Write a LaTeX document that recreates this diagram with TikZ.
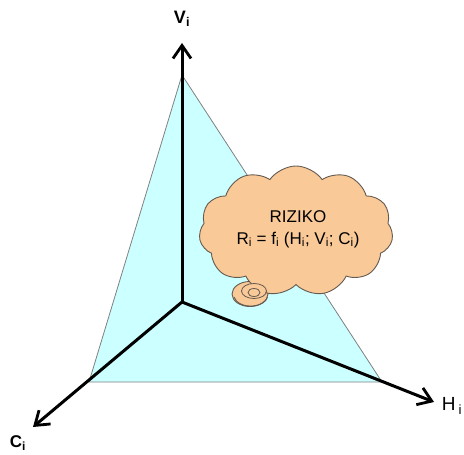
\documentclass[tikz,border=0pt]{standalone}
\usepackage{fontspec}
\setmainfont{Liberation Sans}
\usetikzlibrary{arrows.meta,shapes.symbols,shapes.geometric}
\definecolor{tri}{RGB}{204,255,255}
\definecolor{peach}{RGB}{250,201,152}
\definecolor{cloudline}{RGB}{100,90,80}
\begin{document}
\begin{tikzpicture}[x=1pt,y=-1pt,
  axis/.style={line width=3pt,-{Straight Barb[length=13pt,width=18pt,line width=2.8pt]}},
  lbl/.style={inner sep=0pt,font=\fontsize{17}{20}\selectfont},
  thought/.style={cloud,cloud puffs=11,cloud puff arc=110,aspect=1.5,fill=peach,draw=cloudline,line width=0.9pt,minimum width=194pt,minimum height=130pt,inner sep=0pt},
  bubble/.style={ellipse,fill=peach,draw=cloudline,line width=0.9pt,inner sep=0pt}]
\useasboundingbox (0,0) rectangle (464,455);
\coordinate (O) at (182,302);
\coordinate (T) at (182,75);
\coordinate (L) at (89,382);
\coordinate (R) at (382,382);
\coordinate (Vt) at (182,43);
\coordinate (Ht) at (434,402);
\coordinate (Ct) at (33,427);
\fill[tri] (T) -- (L) -- (R) -- cycle;
\draw[gray,line width=0.8pt] (T) -- (L) -- (R) -- cycle;
\draw[axis] (O) -- (Vt);
\draw[axis] (O) -- (Ht);
\draw[axis] (O) -- (Ct);
\node[lbl,font=\fontsize{18}{20}\selectfont\bfseries] (vl) at (182,19) {V\textsubscript{i}};
\node[lbl,font=\fontsize{19}{20}\selectfont] (hl) at (452,406) {H\,\textsubscript{i}};
\node[lbl,font=\fontsize{17}{20}\selectfont\bfseries] (cl) at (18,443) {C\textsubscript{i}};
\node[bubble,minimum width=36pt,minimum height=25pt] (b1) at (250,294) {};
\node[thought] (cloud) at (296,231) {};
\fill[peach] (250,294) ellipse (16pt and 10pt);
\draw[cloudline,line width=0.9pt] (234,297) arc[start angle=190,end angle=350,x radius=17pt,y radius=11pt];
\draw[cloudline,line width=0.8pt] (254,291) ellipse (12.5pt and 7.5pt);
\draw[cloudline,line width=0.8pt] (254,292.5) ellipse (6pt and 4pt);
\node[align=center,font=\fontsize{17}{22}\selectfont] (txt) at (298,229) {RIZIKO\\R\textsubscript{i} = f\textsubscript{i} (H\textsubscript{i}; V\textsubscript{i}; C\textsubscript{i})};
\end{tikzpicture}
\end{document}
